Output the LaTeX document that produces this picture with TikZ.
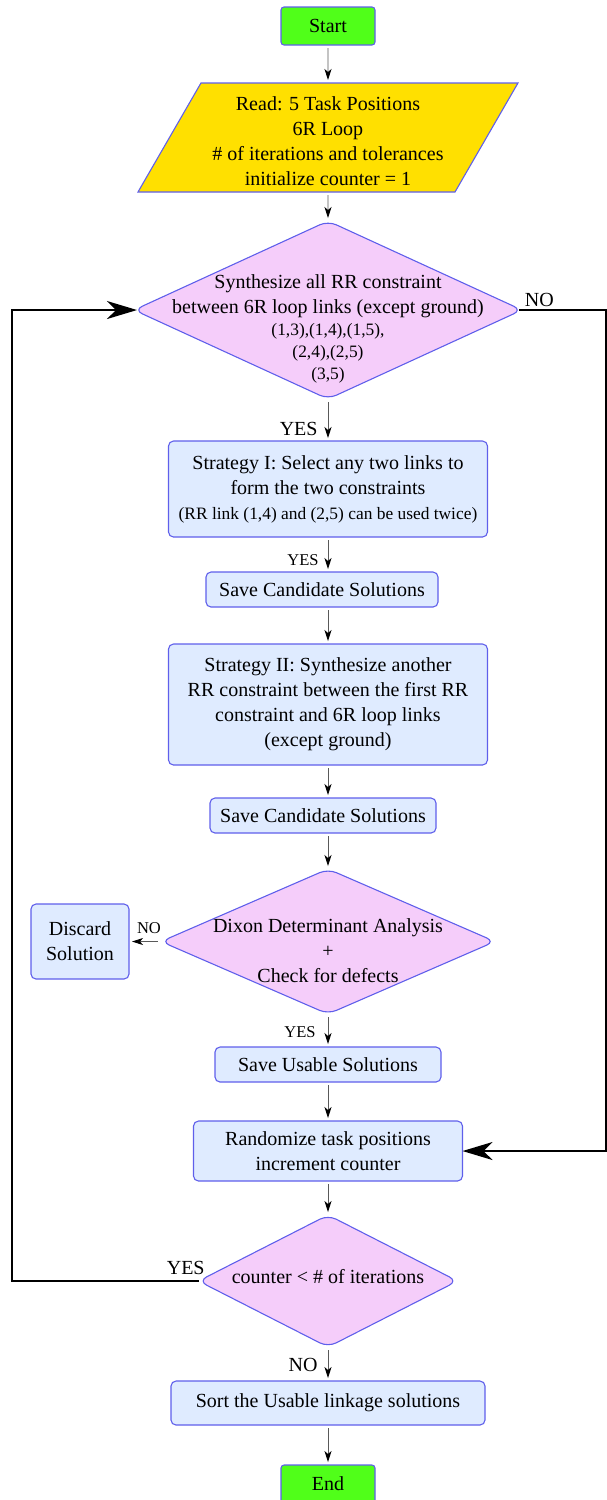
\documentclass[tikz,border=0pt]{standalone}
\usepackage{fontspec}
\setmainfont{Liberation Serif}
\usepackage{xcolor}
\usepackage{tikz}
\usetikzlibrary{shapes.geometric, arrows.meta, positioning}

\definecolor{termgreen}{RGB}{80,255,25}
\definecolor{edgeblue}{RGB}{95,95,235}
\definecolor{readgold}{RGB}{255,224,0}
\definecolor{decpink}{RGB}{245,205,250}
\definecolor{procblue}{RGB}{223,235,255}

\newcommand{\smtxt}{\fontsize{17.4}{22}\selectfont}
\newcommand{\lbltxt}{\fontsize{16.5}{20}\selectfont}
\newcommand{\dlines}[2][0pt]{\raisebox{#1}[0pt][0pt]{\makebox[0pt]{\begin{tabular}{@{}c@{}}#2\end{tabular}}}}

\begin{document}
\begin{tikzpicture}[
  x=1pt, y=-1pt,
  font=\fontsize{20}{25}\selectfont,
  base/.style={draw=edgeblue, line width=1.1pt, align=center, inner sep=2pt, outer sep=0pt},
  term/.style={base, rectangle, rounded corners=3pt, fill=termgreen,
               minimum width=94pt, minimum height=38pt},
  proc/.style={base, rectangle, rounded corners=5pt, fill=procblue},
  io/.style={base, trapezium, trapezium left angle=58.8, trapezium right angle=121.2,
             trapezium stretches body, fill=readgold,
             minimum width=380pt, minimum height=109pt},
  dec/.style={base, diamond, rounded corners=9pt, fill=decpink, inner sep=0pt},
  arrow/.style={draw=black!65, line width=0.9pt,
                -{Stealth[length=11pt, width=7pt, inset=3pt, black]},
                shorten <=3pt, shorten >=3pt},
  loopln/.style={draw=black, line width=1.8pt,
                 -{Stealth[length=30pt, width=18pt, inset=9pt]}},
  lbl/.style={inner sep=0pt},
]
  \useasboundingbox (0,0) rectangle (607,1500);

  % Start and input
  \node[term] (start) at (328,26) {Start};
  \node[io, below=38pt of start] (read)
    {\raisebox{-5pt}[\height][\depth]{\begin{tabular}{@{}c@{}}Read: 5 Task Positions\\ 6R Loop\\
     \# of iterations and tolerances\\ initialize counter = 1\end{tabular}}};

  % RR constraints
  \node[dec, minimum width=388pt, minimum height=178pt, below=29pt of read] (synth)
    {\dlines[-24.5pt]{Synthesize all RR constraint\\ between 6R loop links (except ground)\\[-3pt]
      {\smtxt (1,3),(1,4),(1,5),}\\[-3pt] {\smtxt (2,4),(2,5)}\\[-3pt] {\smtxt (3,5)}}};

  % Strategy I
  \node[proc, minimum width=319pt, minimum height=96pt, below=42pt of synth] (strat1)
    {Strategy I: Select any two links to\\ form the two constraints\\
     {\smtxt (RR link (1,4) and (2,5) can be used twice)}};
  \node[proc, minimum width=232pt, minimum height=35pt, below=35pt of strat1, xshift=-6pt] (save1)
    {Save Candidate Solutions};

  % Strategy II
  \node[proc, minimum width=319pt, minimum height=121pt, below=37pt of save1, xshift=6pt] (strat2)
    {Strategy II: Synthesize another\\ RR constraint between the first RR\\
     constraint and 6R loop links\\ (except ground)};
  \node[proc, minimum width=226pt, minimum height=35pt, below=33pt of strat2, xshift=-5pt] (save2)
    {Save Candidate Solutions};

  % Dixon check
  \node[dec, minimum width=334pt, minimum height=145pt, below=36pt of save2, xshift=5pt] (dix)
    {\dlines[-16pt]{Dixon Determinant Analysis\\ +\\ Check for defects}};
  \node[proc, minimum width=98pt, minimum height=75pt, left=32pt of dix] (discard)
    {Discard\\ Solution};
  \node[proc, minimum width=226pt, minimum height=35pt, below=33pt of dix] (usable)
    {Save Usable Solutions};

  % Iteration
  \node[proc, minimum width=269pt, minimum height=60pt, below=39pt of usable] (rand)
    {Randomize task positions\\ increment counter};
  \node[dec, minimum width=259pt, minimum height=132pt, below=34pt of rand] (cnt)
    {\dlines[-3pt]{counter < \# of iterations}};
  \node[proc, minimum width=314pt, minimum height=44pt, below=34pt of cnt] (sort)
    {Sort the Usable linkage solutions};
  \node[term, below=40pt of sort] (stop) {End};

  % Arrows
  \draw[arrow] (start) -- (read);
  \draw[arrow] (read) -- (synth);
  \draw[arrow] (synth) -- node[lbl, pos=.86, anchor=base east, xshift=-10pt] (yes1) {YES} (strat1);
  \draw[arrow] (strat1) -- node[lbl, pos=.82, anchor=base east, xshift=-9pt] (yes2) {\lbltxt YES} (strat1 |- save1.north);
  \draw[arrow] (save1.south -| strat2) -- (strat2);
  \draw[arrow] (strat2) -- (strat2 |- save2.north);
  \draw[arrow] (save2.south -| dix) -- (dix);
  \draw[arrow] (dix) -- node[lbl, midway, anchor=base, yshift=8pt, xshift=4pt] (no2) {\lbltxt NO} (discard);
  \draw[arrow] (dix) -- node[lbl, pos=.7, anchor=base east, xshift=-12pt] (yes3) {\lbltxt YES} (usable);
  \draw[arrow] (usable) -- (rand);
  \draw[arrow] (rand) -- (cnt);
  \draw[arrow] (cnt) -- node[lbl, pos=.72, anchor=base east, xshift=-10pt] (no3) {NO} (sort);
  \draw[arrow] (sort) -- (stop);

  % Loops
  \coordinate (rgt) at (606,0);
  \coordinate (lft) at (12,0);
  \draw[loopln, shorten <=-3pt] (synth.east)
    -- node[lbl, pos=0, anchor=base west, xshift=2pt, yshift=4pt] (no1) {NO}
    (synth.east -| rgt) |- (rand.east);
  \draw[loopln, shorten >=-3pt] (cnt.west)
    -- node[lbl, pos=0, anchor=base east, xshift=7pt, yshift=6.5pt] (yes4) {YES}
    (cnt.west -| lft) |- (synth.west);
\end{tikzpicture}
\end{document}
